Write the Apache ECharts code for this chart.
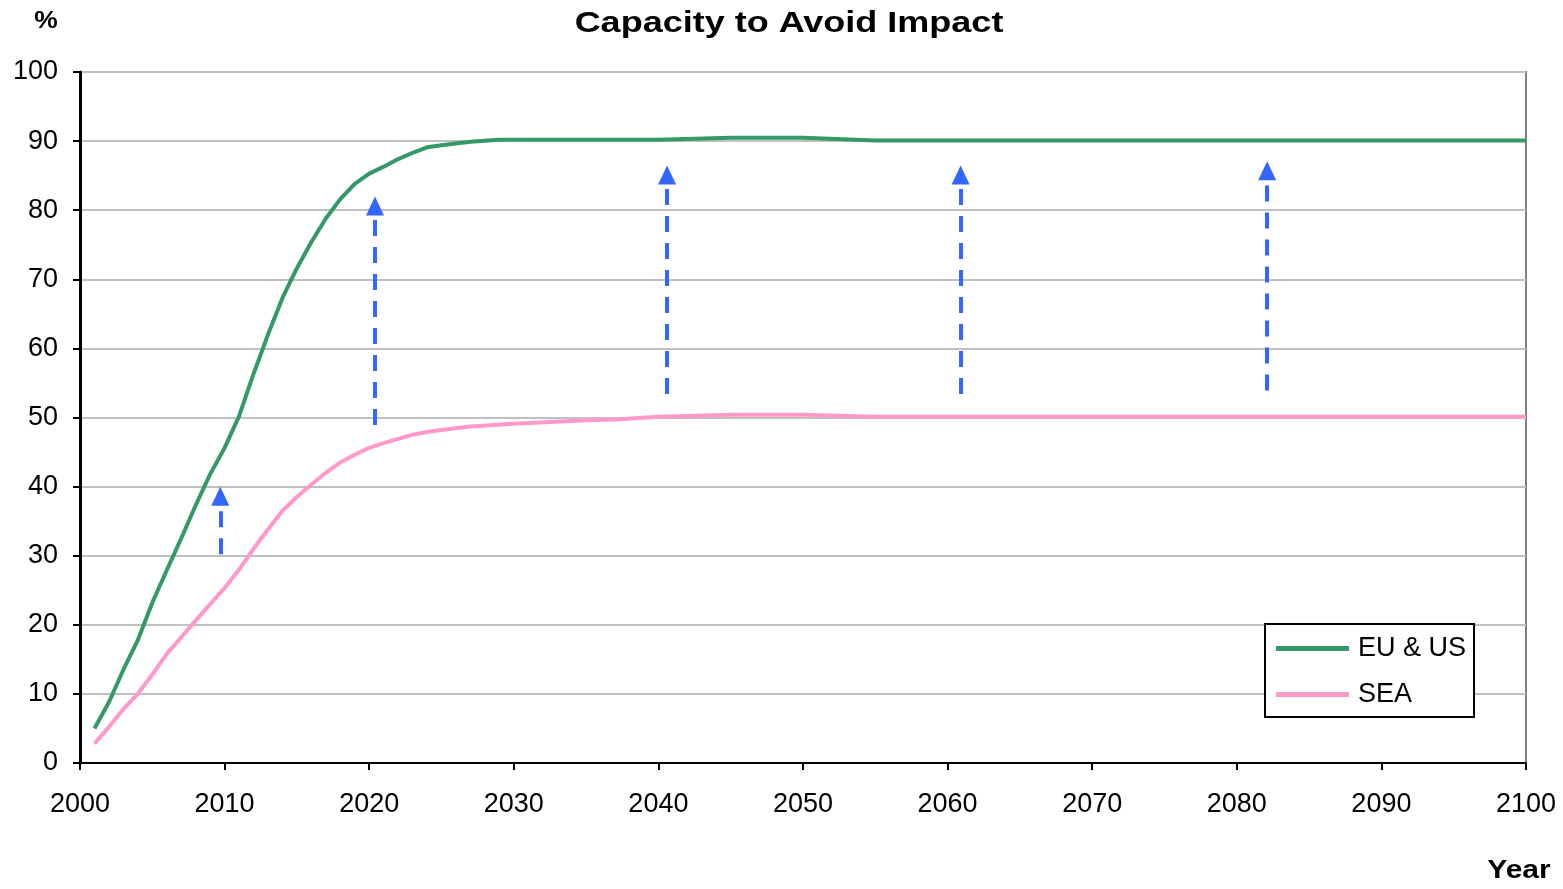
<!DOCTYPE html>
<html>
<head>
<meta charset="utf-8">
<script src="https://cdn.jsdelivr.net/npm/echarts@6/dist/echarts.min.js"></script>
<style>
  html, body { margin: 0; padding: 0; background: #fff; }
  #chart { width: 1563px; height: 889px; }
</style>
</head>
<body>
<div id="chart"></div>
<script>
// Capacity to avoid impact (%), by year
const euUsYears  = [2001, 2002, 2003, 2004, 2005, 2006, 2007, 2008, 2009, 2010, 2011, 2012, 2013, 2014, 2015, 2016, 2017, 2018, 2019, 2020, 2021, 2022, 2023, 2024, 2025, 2027, 2029, 2030, 2035, 2040, 2045, 2050, 2055, 2060, 2070, 2080, 2090, 2100];
const euUsValues = [5.0, 8.8, 13.5, 17.8, 23.2, 27.9, 32.5, 37.3, 41.8, 45.6, 50.2, 56.3, 62.0, 67.3, 71.6, 75.4, 78.8, 81.6, 83.8, 85.3, 86.3, 87.4, 88.3, 89.1, 89.4, 89.9, 90.2, 90.2, 90.2, 90.2, 90.5, 90.5, 90.1, 90.1, 90.1, 90.1, 90.1, 90.1];

const seaYears  = [2001, 2002, 2003, 2004, 2005, 2006, 2007, 2008, 2009, 2010, 2011, 2012, 2013, 2014, 2015, 2016, 2017, 2018, 2019, 2020, 2021, 2022, 2023, 2024, 2025, 2027, 2030, 2035, 2037, 2040, 2045, 2050, 2055, 2060, 2070, 2080, 2090, 2100];
const seaValues = [2.8, 5.2, 7.8, 10.0, 12.8, 15.8, 18.2, 20.6, 23.0, 25.3, 28.0, 31.0, 33.8, 36.5, 38.5, 40.3, 42.0, 43.5, 44.6, 45.6, 46.3, 46.9, 47.5, 47.9, 48.2, 48.7, 49.1, 49.6, 49.7, 50.1, 50.4, 50.4, 50.1, 50.1, 50.1, 50.1, 50.1, 50.1];

// Upward arrows showing the gap to close (end value = centre of the arrow head)
const arrowYears = [2009.7, 2020.4, 2040.6, 2060.9, 2082.1];
const arrowFrom  = [30.2, 48.9, 53.4, 53.4, 53.9];
const arrowTo    = [38.6, 80.6, 85.1, 85.1, 85.7];

const seriesNames = ['EU & US', 'SEA'];
const yTicks = { min: 0, max: 100, interval: 10 };
const xTicks = { min: 2000, max: 2100, interval: 10 };

const FONT = '"Liberation Sans", Arial, sans-serif';
const GREEN = '#339966';
const PINK = '#FF99CC';
const BLUE = '#3366FF';

const zip = (xs, ys) => xs.map((x, i) => [x, ys[i]]);

const arrowLines = arrowYears.map((x, i) => [
  { coord: [x, arrowFrom[i]] },
  { coord: [x, arrowTo[i]] }
]);

const chart = echarts.init(document.getElementById('chart'), null, { renderer: 'canvas' });

chart.setOption({
  animation: false,
  backgroundColor: '#ffffff',
  graphic: [
    {
      type: 'text', x: 789, y: 24, scaleX: 1.2,
      style: { text: 'Capacity to Avoid Impact', font: 'bold 30px ' + FONT, fill: '#000',
               textAlign: 'center', textVerticalAlign: 'middle' }
    },
    {
      type: 'text', x: 46, y: 21, scaleX: 1.1,
      style: { text: '%', font: 'bold 24px ' + FONT, fill: '#000',
               textAlign: 'center', textVerticalAlign: 'middle' }
    },
    {
      type: 'text', x: 1519, y: 871, scaleX: 1.2,
      style: { text: 'Year', font: 'bold 25px ' + FONT, fill: '#000',
               textAlign: 'center', textVerticalAlign: 'middle' }
    }
  ],
  grid: {
    left: 80, right: 37, top: 72, bottom: 126,
    show: true, borderColor: '#808080', borderWidth: 2, backgroundColor: '#fff'
  },
  legend: {
    data: seriesNames,
    orient: 'vertical',
    left: 1265, top: 624,
    padding: [11, 8, 9, 11],
    itemGap: 19,
    itemWidth: 73, itemHeight: 5,
    icon: 'rect',
    borderColor: '#000', borderWidth: 2,
    backgroundColor: '#fff',
    textStyle: { fontFamily: FONT, fontSize: 27, color: '#000', padding: [0, 0, 0, 4] }
  },
  xAxis: {
    type: 'value',
    min: xTicks.min, max: xTicks.max, interval: xTicks.interval,
    axisLine: { show: true, onZero: false, lineStyle: { color: '#000', width: 2 } },
    axisTick: { show: true, length: 7, lineStyle: { color: '#000', width: 2 } },
    axisLabel: { fontFamily: FONT, fontSize: 27, color: '#000', margin: 28,
                 formatter: v => String(v) },
    splitLine: { show: false }
  },
  yAxis: {
    type: 'value',
    min: yTicks.min, max: yTicks.max, interval: yTicks.interval,
    axisLine: { show: true, lineStyle: { color: '#000', width: 3 } },
    axisTick: { show: true, length: 7, lineStyle: { color: '#000', width: 2 } },
    axisLabel: { fontFamily: FONT, fontSize: 27, color: '#000', margin: 22 },
    splitLine: { show: true, lineStyle: { color: '#C0C0C0', width: 2 } }
  },
  series: [
    {
      name: seriesNames[0],
      type: 'line',
      data: zip(euUsYears, euUsValues),
      showSymbol: false, symbol: 'none',
      lineStyle: { color: GREEN, width: 4 },
      itemStyle: { color: GREEN },
      z: 3
    },
    {
      name: seriesNames[1],
      type: 'line',
      data: zip(seaYears, seaValues),
      showSymbol: false, symbol: 'none',
      lineStyle: { color: PINK, width: 4 },
      itemStyle: { color: PINK },
      z: 2,
      markLine: {
        silent: true,
        symbol: ['none', 'triangle'],
        symbolSize: [18, 19],
        label: { show: false },
        lineStyle: { color: BLUE, width: 4, type: [16, 11], opacity: 1 },
        data: arrowLines
      }
    }
  ]
});
</script>
</body>
</html>
